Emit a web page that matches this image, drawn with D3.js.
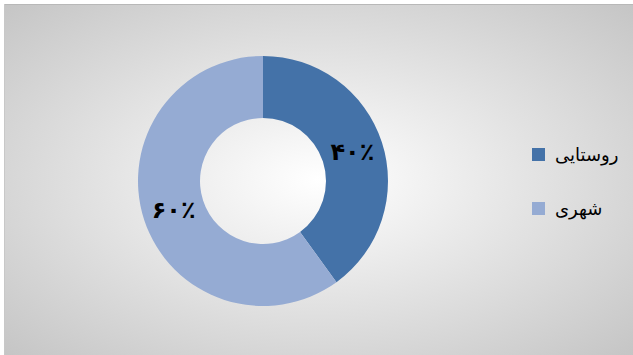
<!DOCTYPE html>
<html><head><meta charset="utf-8">
<script src="https://cdn.jsdelivr.net/npm/d3@7/dist/d3.min.js"></script>
<style>html,body{margin:0;padding:0;background:#fff;}svg{display:block;}</style>
</head><body>
<svg id="c" width="633" height="355"></svg>
<script>
const categories = ["روستایی", "شهری"];
const values = [40, 60];
const labels = ["۴۰٪", "۶۰٪"];
const colors = ["#4472A8", "#95ABD3"];

const svg = d3.select("#c");
const defs = svg.append("defs");
const g = defs.append("radialGradient").attr("id","bg")
  .attr("cx","50%").attr("cy","50%").attr("r","72%");
g.append("stop").attr("offset","0%").attr("stop-color","#ffffff");
g.append("stop").attr("offset","100%").attr("stop-color","#c4c4c4");

svg.append("rect").attr("x",4).attr("y",4).attr("width",629).attr("height",351)
  .attr("fill","url(#bg)");
svg.append("line").attr("x1",4).attr("x2",633).attr("y1",4.5).attr("y2",4.5).attr("stroke","#b8b8b8");
svg.append("line").attr("x1",4.5).attr("x2",4.5).attr("y1",4).attr("y2",355).attr("stroke","#c8c8c8");

const cx = 263, cy = 181, R = 125, r = 63;
const pie = d3.pie().sort(null).value(d => d)(values);
const arc = d3.arc().innerRadius(r).outerRadius(R);
const cg = svg.append("g").attr("transform",`translate(${cx},${cy})`);
cg.selectAll("path").data(pie).join("path")
  .attr("d", arc).attr("fill",(d,i)=>colors[i]);

const labArc = d3.arc().innerRadius((R+r)/2).outerRadius((R+r)/2);
cg.selectAll("text").data(pie).join("text")
  .attr("transform", d => { const c = labArc.centroid(d); return `translate(${c[0]},${c[1]})`; })
  .attr("text-anchor","middle").attr("dy","0.35em")
  .attr("font-family","'DejaVu Serif','DejaVu Sans',serif")
  .attr("font-size",24).attr("font-weight","bold").attr("fill","#000")
  .text((d,i)=>labels[i]);

const lg = svg.append("g");
const ly = [155, 209];
categories.forEach((c,i)=>{
  lg.append("rect").attr("x",532).attr("y",ly[i]-7).attr("width",13).attr("height",13).attr("fill",colors[i]);
  lg.append("text").attr("x",555).attr("y",ly[i]).attr("dy","0.35em")
    .attr("text-anchor","start").attr("direction","ltr")
    .attr("font-family","'DejaVu Sans',sans-serif").attr("font-size",18).attr("fill","#000")
    .text(c);
});
</script>
</body></html>
